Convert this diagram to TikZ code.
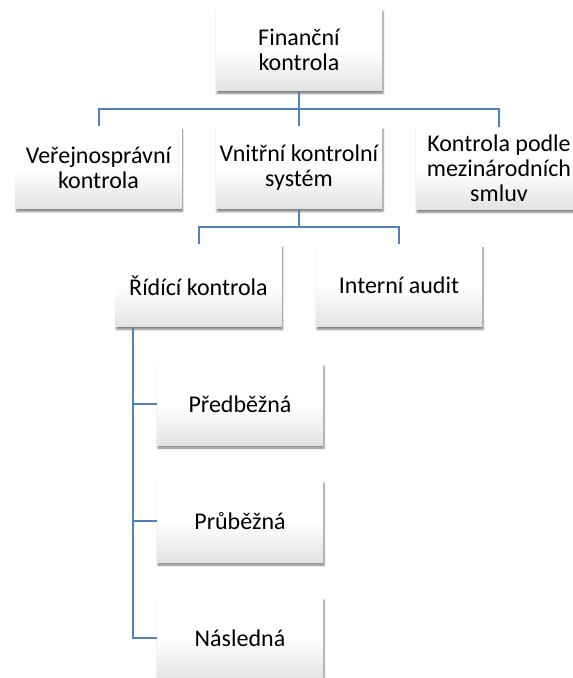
\documentclass[tikz,border=0pt]{standalone}
\usepackage{fontspec}
\setmainfont{Carlito}
\usetikzlibrary{shadows.blur}
\definecolor{linkblue}{RGB}{79,129,189}
\begin{document}
\begin{tikzpicture}[x=1pt, y=-1pt,
    font=\fontsize{24}{25}\selectfont,
    box/.style={minimum width=166pt, minimum height=82pt, align=center, inner sep=2pt,
      top color=white, bottom color=black!11, middle color=white,
      blur shadow={shadow xshift=1pt, shadow yshift=-3pt, shadow blur steps=5, shadow opacity=50}},
    link/.style={draw=linkblue, line width=2pt}]
  \useasboundingbox (0,0) rectangle (573,678);

  % levels
  \node[box] (fin) at (299,49.5) {Finanční\\ kontrola};
  \node[box] (ver) at (98.5,167.5) {Veřejnosprávní\\ kontrola};
  \node[box] (vks) at (299,167.5) {Vnitřní kontrolní\\ systém};
  \node[box] (mez) at (499,168.5) {Kontrola podle\\ mezinárodních\\ smluv};
  \node[box] (rid) at (198.5,285.5) {Řídící kontrola};
  \node[box] (ia)  at (399,285.5) {Interní audit};
  \foreach \nn/\yv/\tx in {pre/404/Předběžná, pru/521/Průběžná, nas/638/Následná} {
    \node[box] (\nn) at (240,\yv) {\tx};
  }

  % connectors
  \draw[link] (fin.south) -- (vks.north);
  \draw[link] (ver.north) -- ++(0,-17) -| (mez.north);
  \draw[link] (vks.south) -- ++(0,18);
  \draw[link] (rid.north) -- ++(0,-17) -| (ia.north);
  \draw[link] ([xshift=18pt]rid.south west) |- (nas.west);
  \foreach \nn in {pre, pru} {
    \draw[link] ([xshift=18pt]rid.south west |- \nn.west) -- (\nn.west);
  }
\end{tikzpicture}
\end{document}
